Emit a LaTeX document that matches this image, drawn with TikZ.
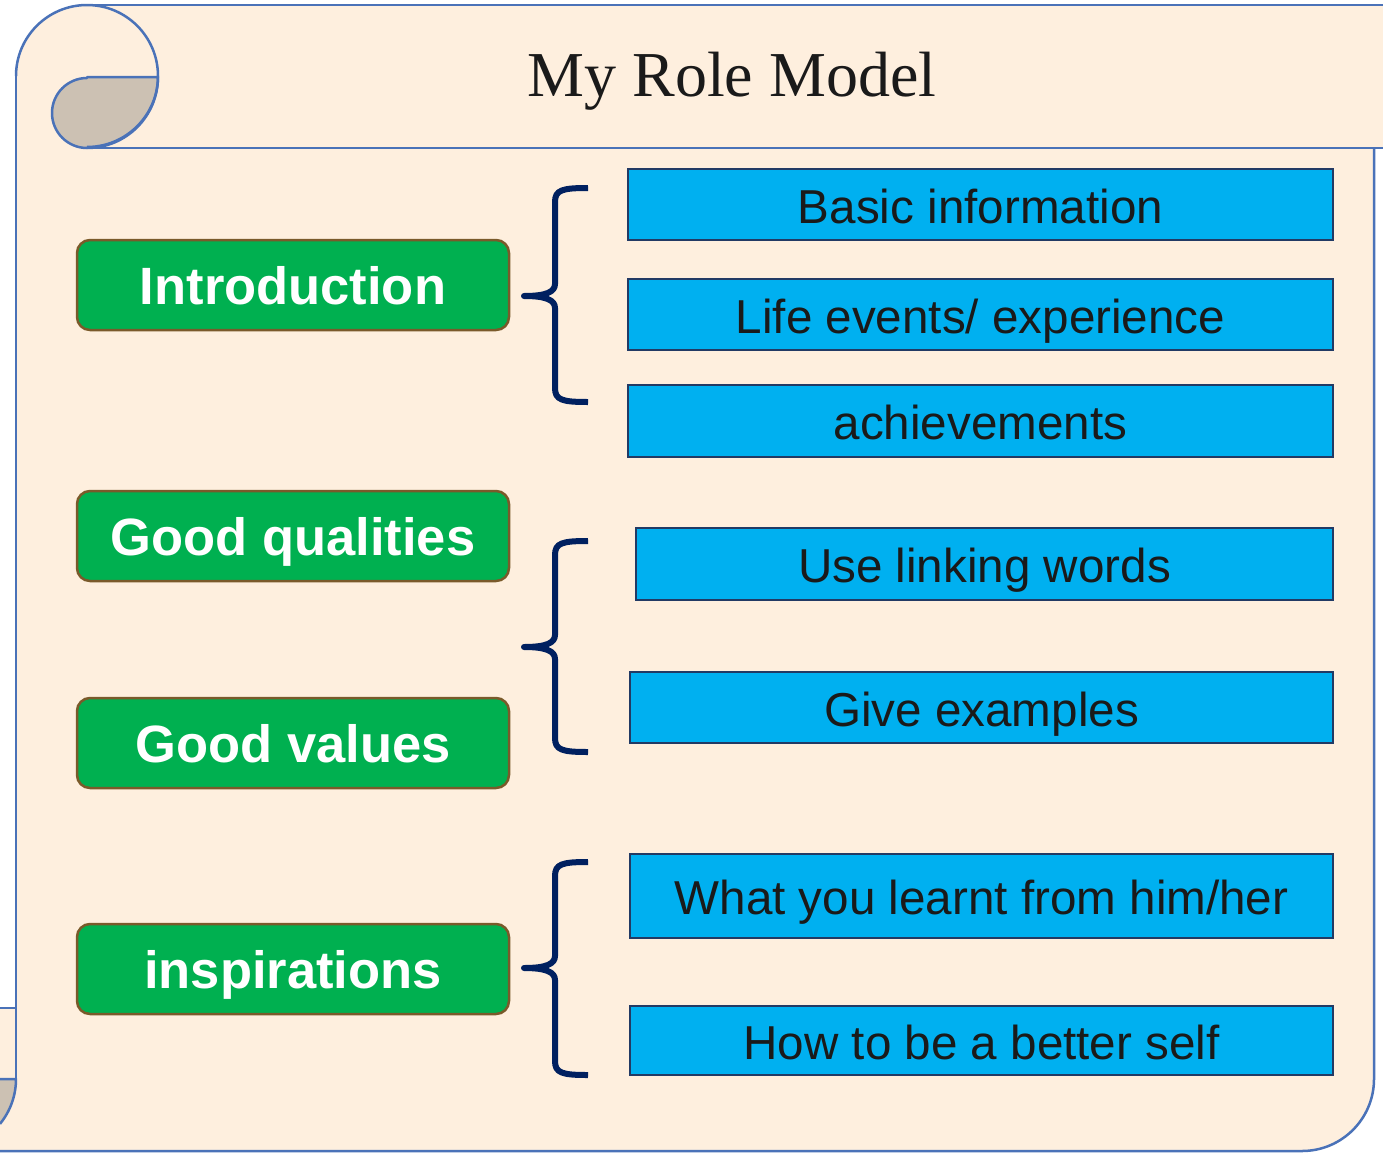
\documentclass[tikz,border=0pt]{standalone}
\usepackage{fontspec}
\setmainfont{Liberation Serif}
\newfontfamily\arialf{Liberation Sans}
\definecolor{scrollfill}{HTML}{FEEFDE}
\definecolor{scrollline}{HTML}{4A72B8}
\definecolor{curlfill}{HTML}{CCC1B3}
\definecolor{greenbox}{HTML}{00B050}
\definecolor{greenline}{HTML}{7A5A2A}
\definecolor{bluebox}{HTML}{00B0F0}
\definecolor{blueline}{HTML}{223A64}
\definecolor{bracecol}{HTML}{002060}
\definecolor{inktext}{HTML}{1A1A1A}
\begin{document}
\begin{tikzpicture}[x=1pt,y=-1pt,
  scrollstroke/.style={draw=scrollline,line width=2.5pt,line join=round},
  greenstyle/.style={draw=greenline,fill=greenbox,line width=2.5pt,rounded corners=13pt,
    minimum width=432pt,minimum height=90pt,inner sep=0pt,
    font=\arialf\bfseries\fontsize{52.5}{60}\selectfont,text=white,
    text height=38pt,text depth=0pt},
  bluestyle/.style={draw=blueline,fill=bluebox,line width=2.5pt,
    inner sep=0pt,font=\arialf\fontsize{47.6}{56}\selectfont,text=inktext,
    text height=37pt,text depth=0pt},
  bracestyle/.style={draw=bracecol,line width=6pt,line cap=butt,line join=round}]
\useasboundingbox (0,0) rectangle (1383,1154);
% scroll body fill
\fill[scrollfill] (87,5) -- (1383,5) -- (1383,148) -- (1374,148) -- (1374,1079)
  arc[start angle=0,end angle=-90,radius=72pt] -- (0,1151) -- (0,1008) -- (16,1008)
  -- (16,76) arc[start angle=180,end angle=90,radius=71pt] -- cycle;
% top-left curl
\filldraw[scrollstroke,fill=curlfill] (87,77) -- (158,77) arc[start angle=0,end angle=-90,radius=71pt]
  arc[start angle=270,end angle=90,radius=35pt] -- cycle;
\draw[scrollstroke] (16,76) arc[start angle=180,end angle=-90,radius=71pt];
\draw[scrollstroke] (87,5) -- (1383,5);
\draw[scrollstroke] (87,148) -- (1383,148);
\draw[scrollstroke] (16,76) -- (16,1079);
% bottom-left curl
\fill[curlfill] (0,1079) -- (16,1079) arc[start angle=0,end angle=-39.2,radius=71pt] -- cycle;
\draw[scrollstroke] (0,1079) -- (16,1079) arc[start angle=0,end angle=-39.2,radius=71pt];
\draw[scrollstroke] (0,1008) -- (16,1008);
% bottom and right edges
\draw[scrollstroke] (0,1151) -- (1302,1151) arc[start angle=270,end angle=360,radius=72pt] -- (1374,148);
% title
\node[font=\fontsize{64}{72}\selectfont,text=inktext] (title) at (732,81) {My Role Model};
% green boxes
\node[greenstyle] (intro) at (293,285) {Introduction};
\node[greenstyle] (qual) at (293,536) {Good qualities};
\node[greenstyle] (vals) at (293,743) {Good values};
\node[greenstyle] (insp) at (293,969) {inspirations};
% blue boxes
\node[bluestyle,minimum width=705pt,minimum height=71pt] (b1) at (980.5,204.5) {Basic information};
\node[bluestyle,minimum width=705pt,minimum height=71pt] (b2) at (980.5,314.5) {Life events/ experience};
\node[bluestyle,minimum width=705pt,minimum height=72pt] (b3) at (980.5,421) {achievements};
\node[bluestyle,minimum width=697pt,minimum height=72pt] (b4) at (984.5,564) {Use linking words};
\node[bluestyle,minimum width=703pt,minimum height=71pt] (b5) at (981.5,707.5) {Give examples};
\node[bluestyle,minimum width=703pt,minimum height=84pt] (b6) at (981.5,896) {What you learnt from him/her};
\node[bluestyle,minimum width=703pt,minimum height=69pt] (b7) at (981.5,1040.5) {How to be a better self};
% braces
\coordinate (br1t) at (588,188); \coordinate (br1m) at (524,296); \coordinate (br1b) at (588,402);
\coordinate (br2t) at (588,541); \coordinate (br2m) at (524,647); \coordinate (br2b) at (588,752);
\coordinate (br3t) at (588,862); \coordinate (br3m) at (524,968); \coordinate (br3b) at (588,1075);
\foreach \n in {1,2,3}{
  \draw[bracestyle] (br\n t) .. controls ([xshift=-26pt]br\n t) and ([xshift=-33pt,yshift=-2pt]br\n t)
    .. ([xshift=-33pt,yshift=-14pt]br\n t) -- ([xshift=31pt,yshift=12pt]br\n m)
    .. controls ([xshift=31pt,yshift=4pt]br\n m) and ([xshift=22pt]br\n m) .. (br\n m)
    .. controls ([xshift=22pt]br\n m) and ([xshift=31pt,yshift=-4pt]br\n m)
    .. ([xshift=31pt,yshift=-12pt]br\n m) -- ([xshift=-33pt,yshift=14pt]br\n b)
    .. controls ([xshift=-33pt,yshift=2pt]br\n b) and ([xshift=-26pt]br\n b) .. (br\n b);
}
\end{tikzpicture}
\end{document}
